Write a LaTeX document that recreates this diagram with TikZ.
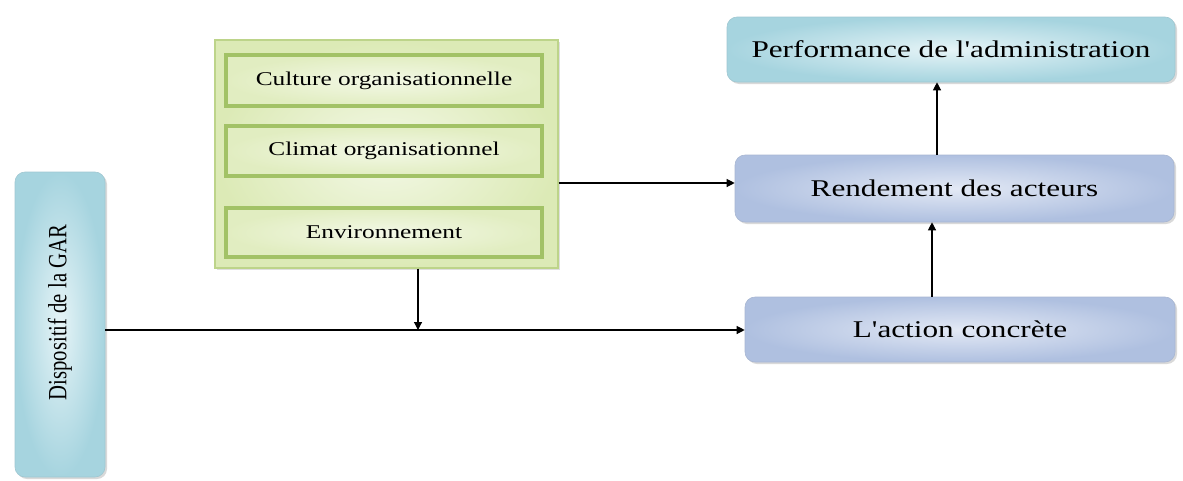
\documentclass[tikz,border=0pt]{standalone}
\usepackage{fontspec}
\setmainfont{Liberation Serif}
\newfontfamily\widefont{Liberation Serif}[FakeStretch=1.3]
\newfontfamily\plainfont{Liberation Serif}
\usetikzlibrary{arrows.meta,shadows}
\definecolor{tealdark}{HTML}{A6D4DF}
\definecolor{teallight}{HTML}{E6F4F7}
\definecolor{bluedark}{HTML}{AFC0E0}
\definecolor{bluelight}{HTML}{E3E9F5}
\definecolor{greenline}{HTML}{A2C266}
\definecolor{greenouter}{HTML}{BDD48A}
\definecolor{greendark}{HTML}{DCEAB6}
\definecolor{greenlight}{HTML}{F3F8E6}
\tikzset{
  tealbox/.style={rounded corners=10pt, draw=tealdark!85!gray, line width=0.6pt,
    inner color=teallight, outer color=tealdark,
    drop shadow={shadow xshift=2pt, shadow yshift=-2pt, opacity=0.3}},
  bluebox/.style={rounded corners=10pt, draw=bluedark!85!gray, line width=0.6pt,
    inner color=bluelight, outer color=bluedark,
    drop shadow={shadow xshift=2pt, shadow yshift=-2pt, opacity=0.3}},
  greenbig/.style={draw=greenouter, line width=1.2pt, inner color=greenlight, outer color=greendark,
    drop shadow={shadow xshift=2pt, shadow yshift=-2pt, opacity=0.25}},
  greeninner/.style={draw=greenline, line width=3.6pt, inner color=greenlight, outer color=greendark!85!white,
    font=\widefont\fontsize{19.5}{22}\selectfont},
  bigtext/.style={font=\widefont\fontsize{24}{28}\selectfont},
  arr/.style={line width=1.2pt, -{Triangle[length=8pt,width=8pt]}},
}
\begin{document}
\begin{tikzpicture}[x=1pt,y=-1pt]
\useasboundingbox (0,0) rectangle (1183,480);
% Dispositif
\node[tealbox, minimum width=90pt, minimum height=305pt, inner sep=0pt] (disp) at (60,324.5) {};
\node[rotate=90] (disptext) at ([yshift=12pt]disp.center) {\scalebox{1}[1.27]{\plainfont\fontsize{20.7}{24}\selectfont Dispositif de la GAR}};
% Green group
\node[greenbig, minimum width=343pt, minimum height=228pt, inner sep=0pt] (green) at (386.5,154) {};
\node[greeninner, minimum width=316pt, minimum height=51pt, inner sep=0pt] (cult) at (384,80.5) {Culture organisationnelle};
\node[greeninner, minimum width=316pt, minimum height=50pt, inner sep=0pt] (clim) at (384,151) {Climat organisationnel};
\node[greeninner, minimum width=316pt, minimum height=49pt, inner sep=0pt] (env) at (384,232.5) {Environnement};
% Right boxes
\node[tealbox, bigtext, minimum width=448pt, minimum height=65pt, inner sep=0pt] (perf) at (951,49.5) {Performance de l'administration};
\node[bluebox, bigtext, minimum width=439pt, minimum height=67pt, inner sep=0pt] (rend) at (954.5,188.5) {Rendement des acteurs};
\node[bluebox, bigtext, minimum width=430pt, minimum height=65pt, inner sep=0pt] (act) at (960,329.5) {L'action concrète};
% Connectors
\draw[arr] ([xshift=-17.5pt]rend.north) -- ([xshift=-17.5pt]rend.north |- perf.south);
\draw[arr] ([xshift=-28pt]act.north) -- ([xshift=-28pt]act.north |- rend.south);
\draw[arr] ([yshift=-29pt]green.east) -- ([yshift=-29pt]green.east -| rend.west);
\draw[arr] ([yshift=-5.5pt]disp.east) -- ([yshift=-5.5pt]disp.east -| act.west);
\coordinate (junction) at ([xshift=31.5pt,yshift=-5.5pt]green.south |- disp.east);
\draw[arr] ([xshift=31.5pt]green.south) -- (junction);
\end{tikzpicture}
\end{document}
